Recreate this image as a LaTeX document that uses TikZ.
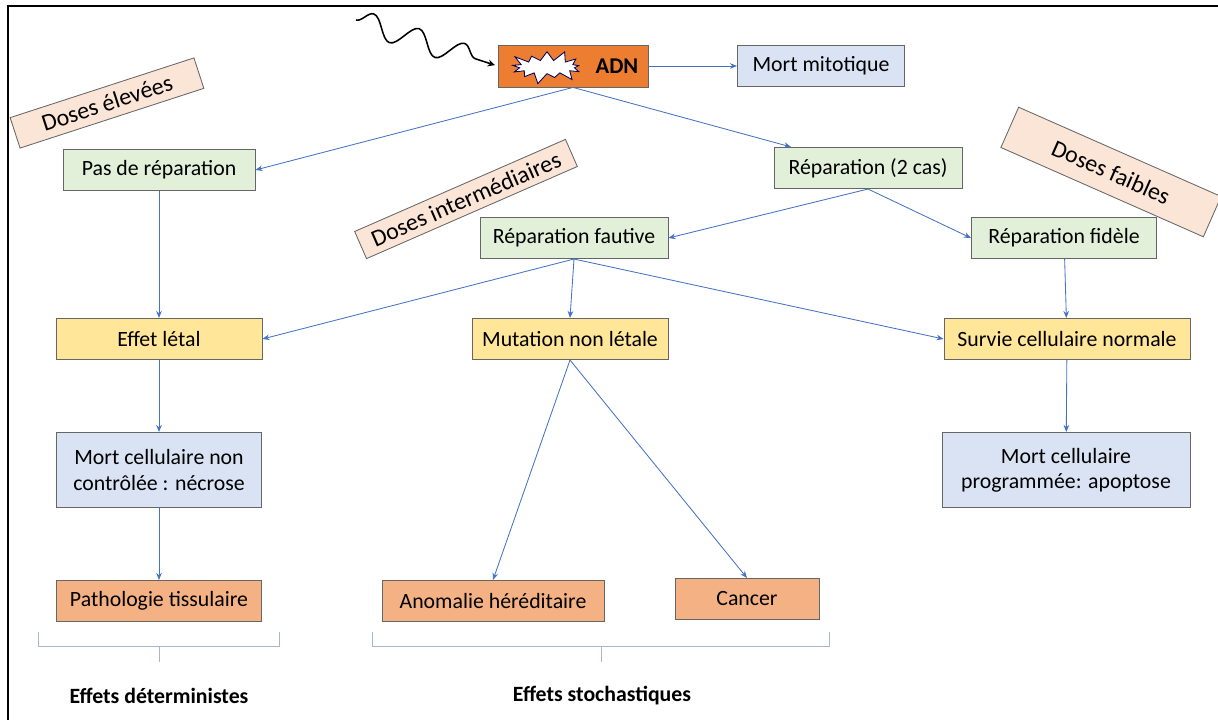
\documentclass[tikz,border=0pt]{standalone}
\usepackage{fontspec}
\setmainfont{Carlito}
\usetikzlibrary{arrows.meta,shapes.symbols,decorations.pathmorphing}
\definecolor{adnorange}{HTML}{ED7D31}
\definecolor{effetorange}{HTML}{F4B183}
\definecolor{repgreen}{HTML}{E2F0D9}
\definecolor{mortblue}{HTML}{DAE3F3}
\definecolor{effetyellow}{HTML}{FFE699}
\definecolor{dosepeach}{HTML}{FBE5D6}
\definecolor{fleche}{HTML}{4472C4}
\definecolor{accolade}{HTML}{A9B6CF}
\tikzset{
  boite/.style={draw=black!60, line width=0.6pt, inner sep=0pt, minimum height=1.03cm,
    font=\fontsize{15.5}{18}\selectfont, align=center},
  dose/.style={boite, fill=dosepeach, font=\fontsize{17}{19}\selectfont},
  fl/.style={draw=fleche, line width=0.6pt, -{Stealth[length=5pt,width=4pt]}},
}

\begin{document}
\begin{tikzpicture}[x=0.025cm, y=-0.025cm]
    \useasboundingbox (0,0) rectangle (1218,720);
    \draw[line width=2pt] (8,720) -- (8,6) -- (1218,6);

    % ADN et rayonnement
    \node[boite, fill=adnorange, minimum width=3.75cm, minimum height=1.05cm] (adn) at (573,66) {};
    \node[starburst, starburst points=13, starburst point height=0.3cm, fill=white,
      draw=blue!35!black, line width=0.6pt, minimum width=1.98cm, minimum height=0.8cm] (eclat) at (547,67) {};
    \node[font=\fontsize{16}{18}\selectfont\bfseries] (adntxt) at (617,66) {ADN};
    \coordinate (rayon) at (356,20);
    \draw[decorate, decoration={snake, amplitude=8pt, segment length=34pt, post length=5pt},
      line width=1.1pt, shorten >=2pt, -{Stealth[length=5pt,width=5pt]}] (rayon) -- (adn.west);
    \node[boite, fill=mortblue, minimum width=4.18cm] (mitose) at (821,66) {Mort mitotique};

    \node[boite, fill=repgreen, minimum width=4.8cm] (pasrep) at (159,170) {Pas de réparation};
    \node[boite, fill=repgreen, minimum width=4.7cm] (rep) at (868,168) {Réparation (2 cas)};
    \node[boite, fill=repgreen, minimum width=4.7cm] (fautive) at (574,238) {Réparation fautive};
    \node[boite, fill=repgreen, minimum width=4.63cm] (fidele) at (1064,238) {Réparation fidèle};

    \node[dose, rotate=18, minimum width=4.83cm, minimum height=0.8cm] (elevees) at (107,103) {Doses élevées};
    \node[dose, rotate=23.6, minimum width=5.75cm, minimum height=0.74cm] (inter) at (466,199) {Doses intermédiaires};
    \node[dose, rotate=-23.8, minimum width=5.53cm, minimum height=1.1cm] (faibles) at (1111,172) {Doses faibles};

    \node[boite, fill=effetyellow, minimum width=5.15cm] (letal) at (159,339) {Effet létal};
    \node[boite, fill=effetyellow, minimum width=4.9cm] (mutation) at (570,339) {Mutation non létale};
    \node[boite, fill=effetyellow, minimum width=6.15cm] (survie) at (1067,339) {Survie cellulaire normale};

    \node[boite, fill=mortblue, minimum width=5.13cm, minimum height=1.88cm] (necrose) at (159,470) {Mort cellulaire non\\contrôlée : nécrose};
    \node[boite, fill=mortblue, minimum width=6.2cm, minimum height=1.88cm] (apoptose) at (1066,470) {Mort cellulaire\\programmée: apoptose};

    \node[boite, fill=effetorange, minimum width=5.13cm] (patho) at (159,601) {Pathologie tissulaire};
    \node[boite, fill=effetorange, minimum width=5.55cm] (anomalie) at (493,601) {Anomalie héréditaire};
    \node[boite, fill=effetorange, minimum width=3.6cm] (cancer) at (747,599) {Cancer};

    \draw[fl] (adn) -- (mitose);
    \draw[fl] (adn.south) -- (pasrep.east);
    \draw[fl] (adn.south) -- (rep);
    \draw[fl] (rep.south) -- (fautive.east);
    \draw[fl] (rep.south) -- (fidele.west);
    \draw[fl] (pasrep) -- (letal);
    \draw[fl] (fidele) -- (survie);
    \draw[fl] (fautive.south) -- (letal.east);
    \draw[fl] (fautive.south) -- (mutation.north);
    \draw[fl] (fautive.south) -- (survie.west);
    \draw[fl] (letal) -- (necrose);
    \draw[fl] (necrose) -- (patho);
    \draw[fl] (survie) -- (apoptose);
    \draw[fl] (mutation.south) -- (anomalie.north);
    \draw[fl] (mutation.south) -- (cancer.north);

    % accolades
    \draw[accolade, line width=0.6pt] (38,632) -- (38,646) -- (279,646) -- (279,632);
    \draw[accolade, line width=0.6pt] (159,646) -- (159,662);
    \draw[accolade, line width=0.6pt] (372,632) -- (372,646) -- (829,646) -- (829,632);
    \draw[accolade, line width=0.6pt] (601,646) -- (601,662);
    \node[font=\fontsize{15.5}{18}\selectfont\bfseries] (determ) at (159,696) {Effets déterministes};
    \node[font=\fontsize{15.5}{18}\selectfont\bfseries] (stoch) at (602,696) {Effets stochastiques};
\end{tikzpicture}
\end{document}
